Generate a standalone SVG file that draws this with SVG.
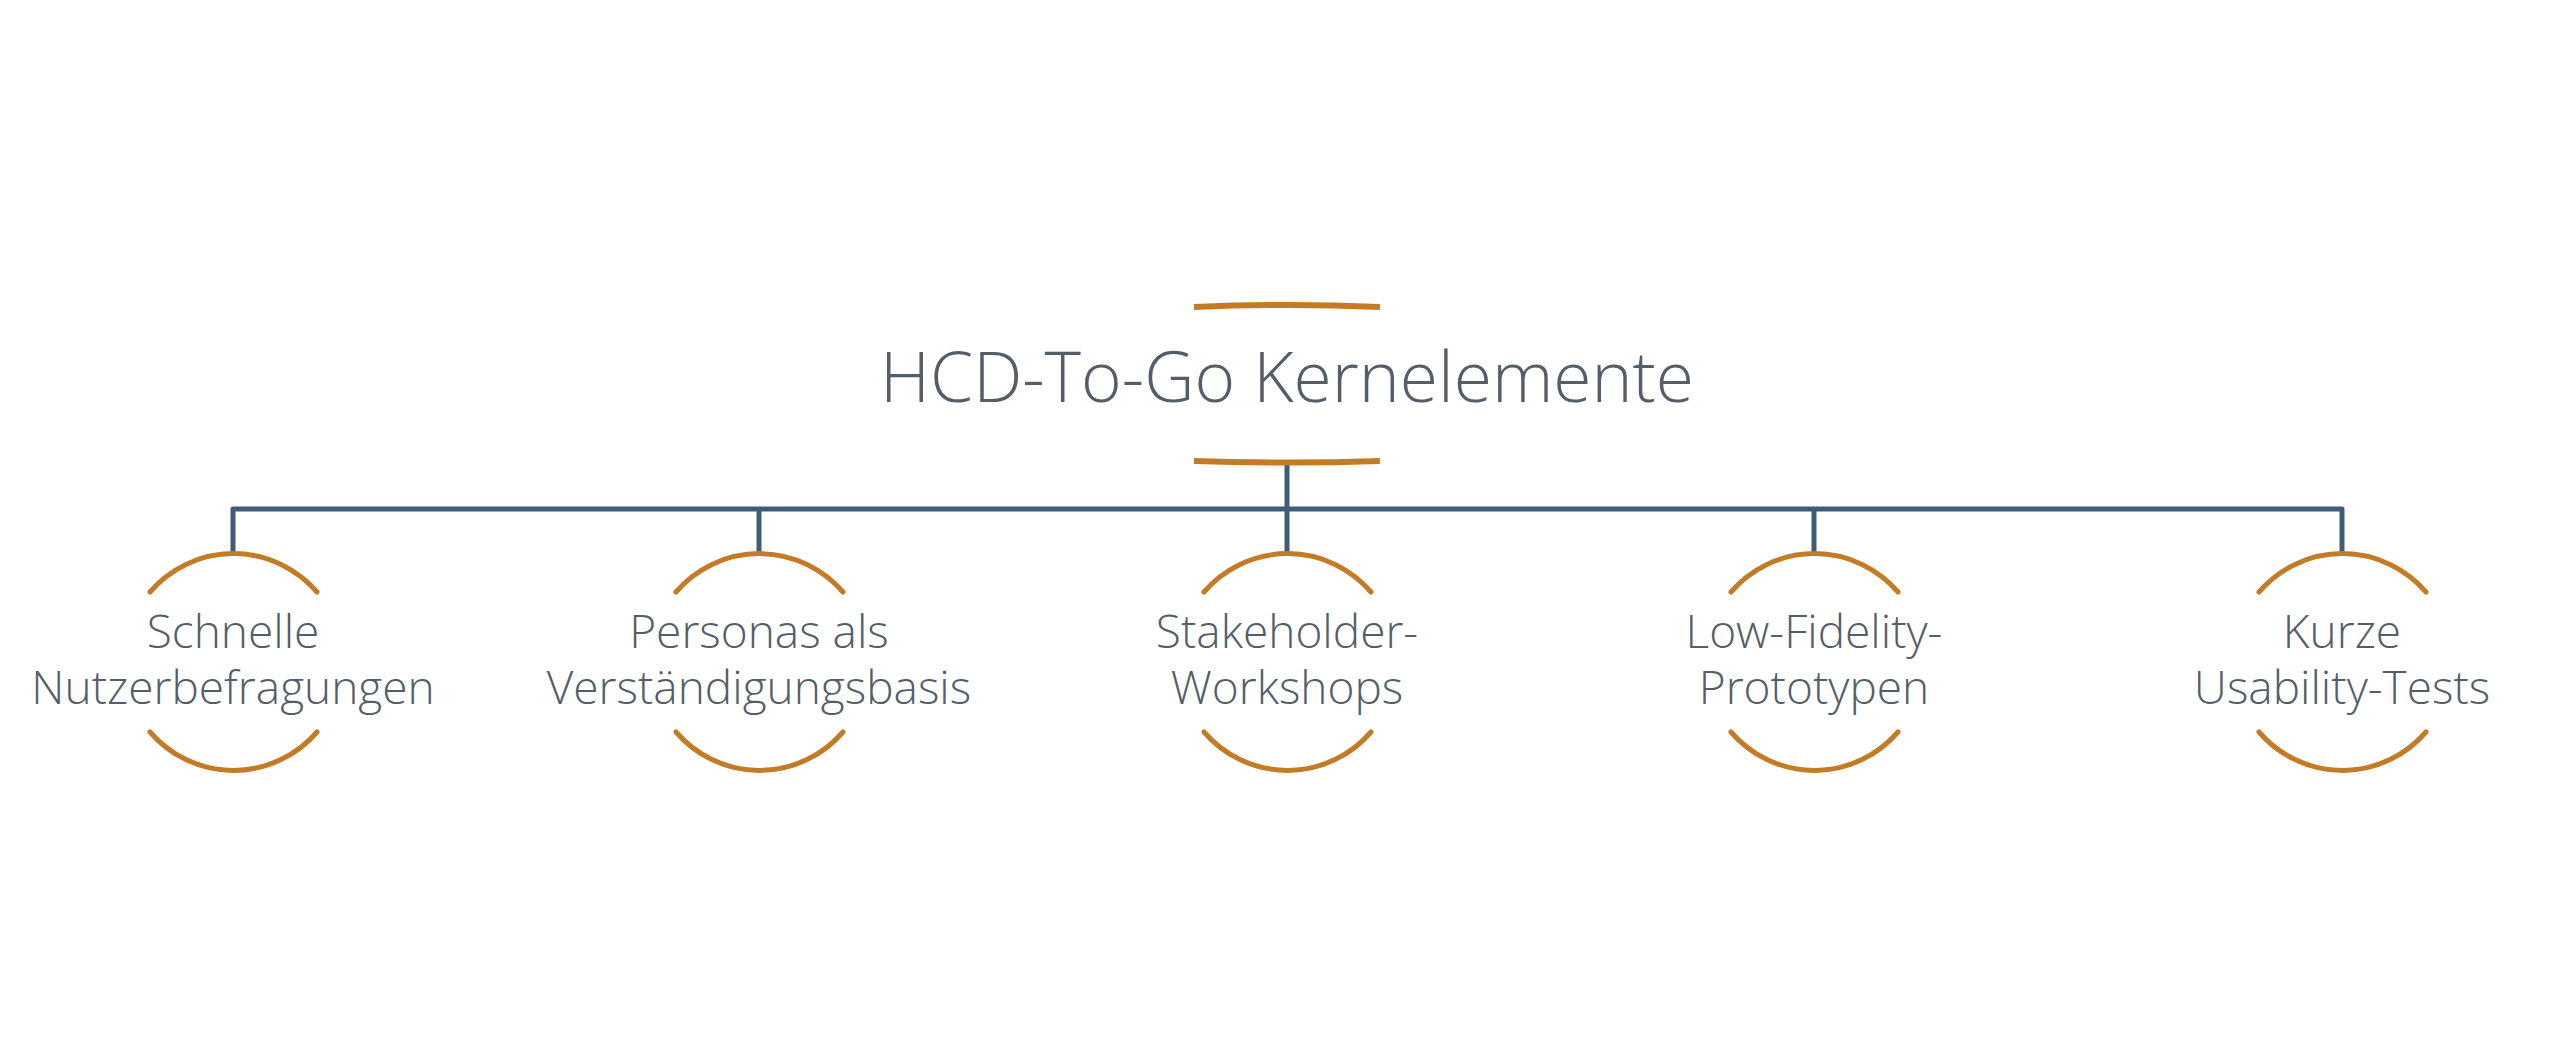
<svg xmlns="http://www.w3.org/2000/svg" width="2560" height="1052" viewBox="0 0 2560 1052">
<style>
.bg{fill:#ffffff}
.conn{fill:none;stroke:#3f5d78;stroke-width:5;stroke-linecap:butt;stroke-linejoin:round}
.arc{fill:none;stroke:#c47b25;stroke-width:5;stroke-linecap:round}
.bar{fill:none;stroke:#c47b25;stroke-width:6;stroke-linecap:butt}
.title{font-family:"Open Sans","Liberation Sans",sans-serif;font-size:69.5px;font-weight:300;fill:#535e69;text-anchor:middle}
.lbl{font-family:"Open Sans","Liberation Sans",sans-serif;font-size:46px;font-weight:300;fill:#535e69;text-anchor:middle}
</style>
<rect class="bg" x="0" y="0" width="2560" height="1052"/>
<g id="connectors">
<path class="conn" d="M1287 462 V509"/>
<path class="conn" d="M233 552 V509 H2342 V552"/>
<path class="conn" d="M759 509 V552"/>
<path class="conn" d="M1287 509 V552"/>
<path class="conn" d="M1814 509 V552"/>
</g>
<g id="root">
<path class="bar" d="M1194 307 Q1287 303 1380 307"/>
<text class="title" x="1287" y="402">HCD-To-Go Kernelemente</text>
<path class="bar" d="M1194 461 Q1287 464 1380 461"/>
</g>
<g id="node1">
<path class="arc" d="M150 592 A110 110 0 0 1 317 592"/>
<text class="lbl" x="233" y="648">Schnelle</text>
<text class="lbl" x="233" y="704">Nutzerbefragungen</text>
<path class="arc" d="M150 732 A110 110 0 0 0 317 732"/>
</g>
<g id="node2">
<path class="arc" d="M676 592 A110 110 0 0 1 843 592"/>
<text class="lbl" x="759" y="648">Personas als</text>
<text class="lbl" x="759" y="704">Verständigungsbasis</text>
<path class="arc" d="M676 732 A110 110 0 0 0 843 732"/>
</g>
<g id="node3">
<path class="arc" d="M1204 592 A110 110 0 0 1 1371 592"/>
<text class="lbl" x="1287" y="648">Stakeholder-</text>
<text class="lbl" x="1287" y="704">Workshops</text>
<path class="arc" d="M1204 732 A110 110 0 0 0 1371 732"/>
</g>
<g id="node4">
<path class="arc" d="M1731 592 A110 110 0 0 1 1898 592"/>
<text class="lbl" x="1814" y="648">Low-Fidelity-</text>
<text class="lbl" x="1814" y="704">Prototypen</text>
<path class="arc" d="M1731 732 A110 110 0 0 0 1898 732"/>
</g>
<g id="node5">
<path class="arc" d="M2259 592 A110 110 0 0 1 2426 592"/>
<text class="lbl" x="2342" y="648">Kurze</text>
<text class="lbl" x="2342" y="704">Usability-Tests</text>
<path class="arc" d="M2259 732 A110 110 0 0 0 2426 732"/>
</g>
</svg>
